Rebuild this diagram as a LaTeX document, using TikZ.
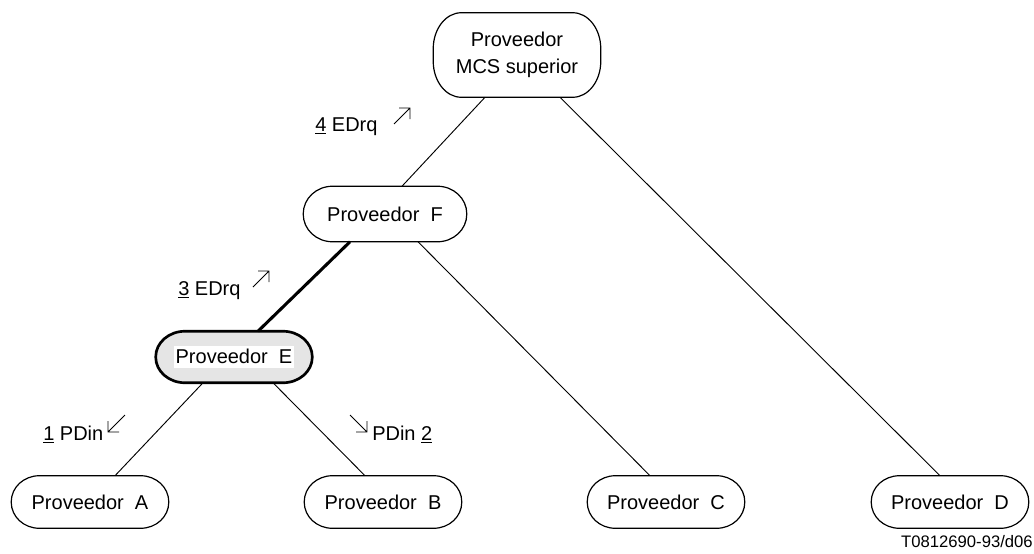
\documentclass[tikz,border=0pt]{standalone}
\usepackage{fontspec}
\setmainfont{Liberation Sans}
\usetikzlibrary{calc,backgrounds}
\newcommand\ProvShape[4][]{%
  \draw[boxline,#1] ([xshift=#3]#2.north west) -- ([xshift=-#3]#2.north east)
    arc[start angle=90,end angle=0,x radius=#3,y radius=#4]
    -- ([yshift=#4]#2.south east)
    arc[start angle=0,end angle=-90,x radius=#3,y radius=#4]
    -- ([xshift=#3]#2.south west)
    arc[start angle=270,end angle=180,x radius=#3,y radius=#4]
    -- ([yshift=-#4]#2.north west)
    arc[start angle=180,end angle=90,x radius=#3,y radius=#4] -- cycle;}
\begin{document}
\begin{tikzpicture}[x=0.75pt,y=-0.75pt,
  txt/.style={font=\fontsize{15}{20}\selectfont},
  box/.style={txt, inner sep=0pt, align=center, minimum width=117.75pt, minimum height=39pt},
  boxline/.style={line width=0.9pt},
  link/.style={line width=0.7pt},
  thicklink/.style={line width=2.3pt},
  lbl/.style={txt, inner sep=0pt},
  arr/.style={line width=0.7pt},
  arrNE/.pic={\draw[arr] (0,16)--(16,0) (5,0)--(16,0)--(16,11);},
  arrSW/.pic={\draw[arr] (17,0)--(0,17) (0,6)--(0,17)--(11,17);},
  arrSE/.pic={\draw[arr] (0,0)--(17,17) (6,17)--(17,17)--(17,6);}
]
\useasboundingbox (0,0) rectangle (1034,553);

\node[box, minimum width=125.25pt, minimum height=63pt] (mcs) at (517,55) {Proveedor\\MCS superior};
\node[box, minimum width=122.25pt, minimum height=41.25pt] (f) at (385,214) {Proveedor~~F};
\node[box, minimum width=117pt, minimum height=38.25pt] (e) at (234,357)
  {\setlength{\fboxsep}{1.5pt}\colorbox{white}{\rule[-2pt]{0pt}{13pt}Proveedor~~E}};
\node[box] (a) at (90,502) {Proveedor~~A};
\node[box] (b) at (383,502) {Proveedor~~B};
\node[box] (c) at (666,502) {Proveedor~~C};
\node[box] (d) at (950,502) {Proveedor~~D};

\ProvShape{mcs}{21pt}{27pt}
\ProvShape{f}{22pt}{20.6pt}
\begin{pgfonlayer}{background}
\ProvShape[fill=black!10, line width=2pt]{e}{22pt}{19.1pt}
\end{pgfonlayer}
\ProvShape{a}{21pt}{19.5pt}
\ProvShape{b}{21pt}{19.5pt}
\ProvShape{c}{21pt}{19.5pt}
\ProvShape{d}{21pt}{19.5pt}

\draw[link] ($(mcs.south)+(-32,0)$) -- ($(f.north)+(17,0)$);
\draw[link] ($(mcs.south)+(43,0)$) -- ($(d.north)+(-10,0)$);
\draw[thicklink] ($(f.south)+(-35,0)$) -- ($(e.north)+(24,0)$);
\draw[link] ($(f.south)+(33,0)$) -- ($(c.north)+(-16,0)$);
\draw[link] ($(e.south)+(-31,0)$) -- ($(a.north)+(25,0)$);
\draw[link] ($(e.south)+(39,0)$) -- ($(b.north)+(-18,0)$);

\node[lbl, anchor=base west] (l4) at (315,131) {\underline{4} EDrq};
\pic at (394,108) {arrNE};
\node[lbl, anchor=base west] (l3) at (178,295) {\underline{3} EDrq};
\pic at (253,271) {arrNE};
\node[lbl, anchor=base west] (l1) at (43,440) {\underline{1} PDin};
\pic at (108,415) {arrSW};
\pic at (350,415) {arrSE};
\node[lbl, anchor=base west] (l2) at (372,440) {PDin \underline{2}};

\node[font=\fontsize{12.5}{15}\selectfont, inner sep=0pt, anchor=base east] (ref) at (1033,547) {T0812690-93/d06};
\end{tikzpicture}
\end{document}
